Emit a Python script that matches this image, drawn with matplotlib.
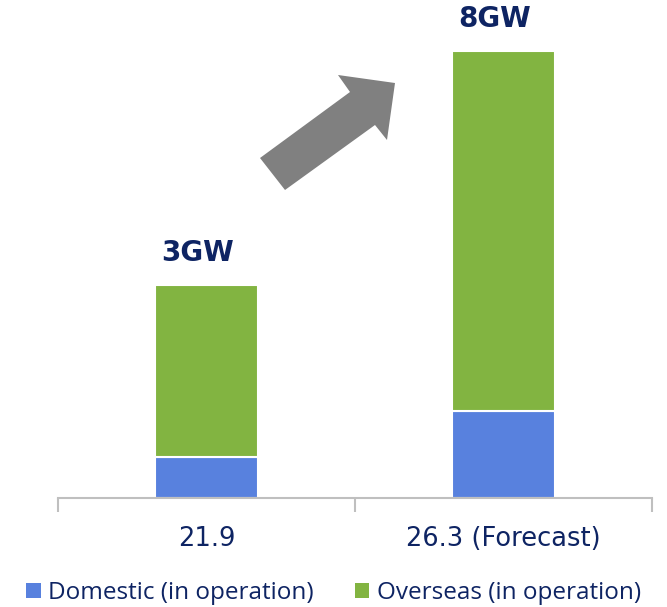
import matplotlib
matplotlib.use("Agg")
import matplotlib.pyplot as plt
from matplotlib.patches import Polygon, Patch

categories = ["21.9", "26.3 (Forecast)"]
domestic = [0.58, 1.23]
overseas = [2.42, 5.07]
total_labels = ["3GW", "8GW"]
series_names = ["Domestic (in operation)", "Overseas (in operation)"]

BLUE = "#5881DE"
GREEN = "#82B441"
NAVY = "#0E2463"
AXGRAY = "#BFBFBF"

W, H = 667, 607
fig = plt.figure(figsize=(W / 100, H / 100), dpi=100)
ax = fig.add_axes([58 / W, 1 - 498 / H, 594 / W, 498 / H])

x = list(range(len(categories)))
ax.bar(x, domestic, width=0.35, color=BLUE, edgecolor="white", linewidth=1.5)
ax.bar(x, overseas, width=0.35, bottom=domestic, color=GREEN, edgecolor="white", linewidth=1.5)

for i, lab in enumerate(total_labels):
    tot = domestic[i] + overseas[i]
    ax.text(i - 0.03, tot + 0.25, lab, ha="center", va="bottom",
            fontsize=20, fontweight="bold", color=NAVY, family="DejaVu Sans")

ax.set_xlim(-0.5, 1.5)
ax.set_ylim(0, 498 / 71)
for s in ["top", "right", "left"]:
    ax.spines[s].set_visible(False)
ax.spines["bottom"].set_color(AXGRAY)
ax.spines["bottom"].set_linewidth(1.5)
ax.set_yticks([])
ax.set_xticks(x)
ax.set_xticklabels(categories, fontsize=18.5, color=NAVY, family="DejaVu Sans")
ax.tick_params(axis="x", which="major", length=0, pad=20)
ax.set_xticks([-0.5, 0.5, 1.5], minor=True)
ax.tick_params(axis="x", which="minor", length=10, width=1.5, color=AXGRAY, direction="out")

# arrow (decorative) in figure pixel coords
pts = [(260, 158), (350, 92), (338, 75), (395, 83), (387, 140), (375, 125), (285, 190)]
poly = Polygon([(px / W, 1 - py / H) for px, py in pts], closed=True,
               transform=fig.transFigure, facecolor="#808080", edgecolor="none")
fig.patches.append(poly)

handles = [Patch(facecolor=BLUE, edgecolor="none"), Patch(facecolor=GREEN, edgecolor="none")]
fig.legend(handles, series_names, loc="center", bbox_to_anchor=(0.5, 1 - 593 / H),
           ncol=2, frameon=False, handlelength=0.6, handleheight=0.6, handletextpad=0.3,
           columnspacing=1.7, borderpad=0, prop={"family": "Open Sans", "size": 17.5},
           labelcolor=NAVY)

fig.savefig("out.png", dpi=100)
